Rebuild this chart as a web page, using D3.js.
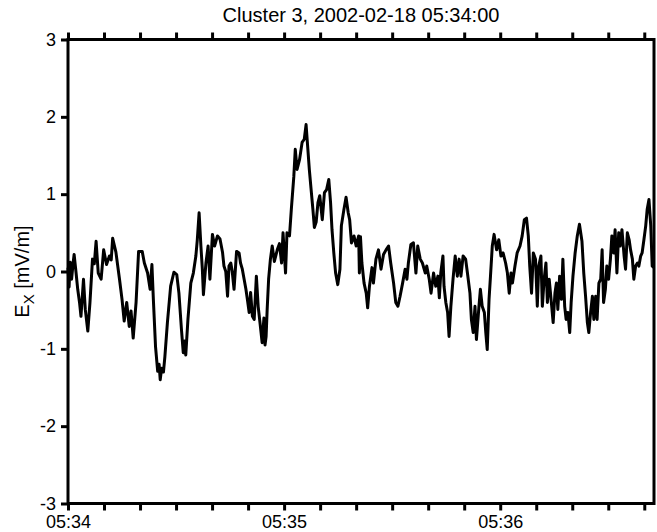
<!DOCTYPE html>
<html>
<head>
<meta charset="utf-8">
<script src="https://cdn.jsdelivr.net/npm/d3@7"></script>
<style>
  body { margin: 0; background: #fff; }
  svg { display: block; font-family: "Liberation Sans", Arial, sans-serif; }
</style>
</head>
<body>
<div class="chart"></div>
<script>
const WIDTH = 657, HEIGHT = 532;
const START = new Date(Date.UTC(2002, 1, 18, 5, 34, 0));
const END_SEC = 162.7;
const TITLE = "Cluster 3, 2002-02-18 05:34:00";
const Y_TICKS = [-3, -2, -1, 0, 1, 2, 3];

// seconds after 05:34:00
const secs = [0.0,0.3,0.6,1.0,1.4,1.7,2.2,2.7,3.2,3.6,4.3,4.8,5.5,6.1,6.8,7.3,7.8,8.4,9.2,9.9,
  10.7,11.5,12.0,12.4,13.3,14.3,15.0,15.6,16.3,17.0,17.5,18.1,18.9,19.6,20.6,21.2,22.1,22.8,23.3,23.7,
  24.3,24.9,25.3,25.6,26.0,26.5,26.9,27.6,28.5,29.4,30.2,30.8,31.5,32.0,32.4,32.7,33.3,34.1,34.8,35.5,
  35.9,36.4,36.9,37.3,37.6,38.3,38.9,39.4,40.1,40.7,41.5,42.2,42.9,43.3,43.8,44.3,44.7,45.2,45.6,46.1,
  46.8,47.5,47.9,48.4,48.9,49.4,49.8,50.3,50.7,51.2,51.7,52.3,52.8,53.3,53.9,54.4,54.7,55.0,55.3,55.7,
  56.2,56.7,57.3,58.1,58.7,59.3,59.7,60.4,60.8,61.5,62.0,62.7,63.1,63.6,64.3,65.0,65.6,66.1,66.6,67.0,
  67.5,68.0,68.4,68.9,69.4,69.9,70.6,71.2,71.8,72.4,72.9,73.3,73.8,74.3,74.9,75.5,75.9,76.6,77.2,77.8,
  78.2,78.7,79.4,80.0,80.7,80.9,81.2,81.6,82.2,82.8,83.2,83.7,84.4,84.8,85.5,86.2,86.9,87.6,88.3,89.0,
  89.6,90.4,91.0,91.6,92.2,92.9,93.6,94.1,94.5,95.2,95.9,96.6,97.1,97.8,98.4,99.2,99.6,100.3,100.8,101.5,
  102.1,102.7,103.1,103.5,104.1,104.4,104.9,105.4,105.8,106.3,106.9,107.5,108.1,108.6,109.1,109.7,110.4,110.9,111.6,112.0,
  112.5,113.0,113.4,114.1,114.5,115.0,115.6,116.0,116.4,116.9,117.3,117.8,118.3,119.0,119.6,120.2,120.8,121.5,122.0,122.5,
  123.0,123.4,124.1,124.7,125.5,126.1,126.7,127.3,127.8,128.2,128.7,129.2,129.8,130.3,130.7,131.3,131.7,132.2,132.7,133.1,
  133.6,134.3,134.7,135.2,135.6,136.0,136.5,137.0,137.4,137.9,138.3,138.8,139.3,139.7,140.2,140.8,141.4,142.0,142.7,143.2,
  143.7,144.2,144.6,145.1,145.6,146.0,146.5,146.9,147.4,147.9,148.3,148.7,149.2,149.6,150.1,150.6,151.0,151.5,151.9,152.4,
  152.9,153.3,153.8,154.4,154.8,155.3,155.8,156.2,156.7,157.1,157.6,158.1,158.5,159.0,159.4,159.9,160.4,160.8,161.3,161.8,
  162.2,162.7];

// Ex in mV/m
const ex = [0.05,-0.2,0.12,-0.1,0.1,0.22,0.0,-0.23,-0.4,-0.58,-0.1,-0.49,-0.77,-0.4,0.16,0.1,0.39,-0.02,-0.1,0.28,
  0.09,0.2,0.15,0.43,0.25,-0.1,-0.36,-0.64,-0.4,-0.71,-0.51,-0.86,-0.4,0.26,0.26,0.11,-0.02,-0.23,0.09,-0.36,
  -0.97,-1.29,-1.2,-1.4,-1.25,-1.3,-1.1,-0.66,-0.19,-0.01,-0.04,-0.28,-0.75,-1.05,-0.9,-1.08,-0.62,-0.15,-0.02,0.2,
  0.41,0.76,0.33,0.03,-0.3,0.11,0.33,-0.1,0.48,0.33,0.46,0.42,0.25,0.07,0.0,-0.32,0.07,0.11,0.0,-0.23,
  0.26,0.24,0.11,0.03,-0.1,-0.23,-0.36,-0.53,-0.27,-0.58,-0.62,-0.06,-0.45,-0.66,-0.92,-0.6,-0.95,-0.84,-0.49,-0.1,
  0.16,0.33,0.13,0.28,0.36,0.11,0.5,-0.02,0.5,0.46,0.8,1.23,1.58,1.32,1.45,1.67,1.71,1.9,1.58,1.32,
  1.06,0.8,0.57,0.64,0.89,0.98,0.67,1.02,1.06,1.19,0.89,0.54,0.24,-0.02,-0.17,0.03,0.59,0.8,0.96,0.76,
  0.67,0.37,0.46,0.33,0.46,-0.02,0.45,0.11,-0.15,-0.28,-0.47,-0.19,0.05,-0.15,0.16,0.28,0.03,0.22,0.28,0.33,
  0.11,-0.15,-0.4,-0.45,-0.32,-0.15,0.03,-0.1,0.11,0.35,0.37,-0.02,0.33,0.16,0.11,-0.02,0.07,-0.1,-0.28,-0.02,
  -0.19,-0.06,-0.34,-0.02,0.2,-0.19,-0.4,-0.53,-0.84,-0.45,-0.1,0.2,-0.06,0.16,-0.06,0.2,0.16,-0.02,-0.28,-0.62,
  -0.79,-0.45,-0.88,-0.45,-0.23,-0.45,-0.53,-0.79,-1.01,-0.36,-0.06,0.33,0.48,0.28,0.41,0.2,0.24,0.11,-0.02,-0.28,
  -0.02,-0.15,0.07,0.24,0.33,0.46,0.67,0.69,0.46,0.07,-0.28,0.24,0.16,-0.45,0.07,0.2,-0.45,-0.1,0.11,-0.4,
  -0.1,-0.45,-0.66,-0.28,-0.15,-0.49,-0.06,-0.36,0.16,-0.45,-0.62,-0.53,-0.79,-0.4,-0.06,0.24,0.46,0.61,0.39,-0.02,
  -0.32,-0.66,-0.79,-0.53,-0.32,-0.62,-0.32,-0.62,-0.15,-0.1,0.28,-0.4,-0.23,0.07,-0.1,0.16,0.46,0.24,0.54,-0.02,
  0.5,0.33,0.54,0.2,0.03,0.5,0.41,0.28,0.16,-0.1,0.07,0.11,0.07,0.2,0.24,0.41,0.59,0.8,0.93,0.59,
  0.07,0.05];

const margin = {top: 39.5, right: 3, bottom: 28.5, left: 68};

let data = secs.map((s, i) => ({t: new Date(START.getTime() + s * 1000), v: ex[i]}));

let svg = d3.select(".chart").append("svg").attr("width", WIDTH).attr("height", HEIGHT);

let xScale = d3.scaleUtc()
  .domain([START, new Date(START.getTime() + END_SEC * 1000)])
  .range([margin.left, WIDTH - margin.right]);
let yScale = d3.scaleLinear().domain([-3, 3]).range([HEIGHT - margin.bottom, margin.top]);

let tickTimes = d3.utcSecond.every(10).range(START, new Date(START.getTime() + END_SEC * 1000 + 1));
let fmt = d3.utcFormat("%H:%M");
let labelOf = d => d.getUTCSeconds() === 0 ? fmt(d) : "";

// data line
let line = d3.line().x(d => xScale(d.t)).y(d => yScale(d.v));
svg.append("path").datum(data)
  .attr("fill", "none").attr("stroke", "#000").attr("stroke-width", 3)
  .attr("stroke-linejoin", "round")
  .attr("d", line);

// axes
let bottomAxis = d3.axisBottom(xScale).tickValues(tickTimes).tickFormat(labelOf).tickSize(7).tickSizeOuter(0).tickPadding(5);
let topAxis = d3.axisTop(xScale).tickValues(tickTimes).tickFormat("").tickSize(7).tickSizeOuter(0);
let leftAxis = d3.axisLeft(yScale).tickValues(Y_TICKS).tickFormat(d => String(d)).tickSize(7).tickSizeOuter(0).tickPadding(5);

let gx = svg.append("g").attr("transform", `translate(0, ${HEIGHT - margin.bottom})`).call(bottomAxis);
let gt = svg.append("g").attr("transform", `translate(0, ${margin.top})`).call(topAxis);
let gy = svg.append("g").attr("transform", `translate(${margin.left}, 0)`).call(leftAxis);

for (let g of [gx, gt, gy]) {
  g.select(".domain").remove();
  g.selectAll(".tick line").attr("stroke", "#000").attr("stroke-width", 3);
  g.selectAll(".tick text").attr("fill", "#000").style("font-size", "18px")
    .style("font-family", "'Liberation Sans', Arial, sans-serif");
}

// frame
svg.append("rect")
  .attr("x", margin.left).attr("y", margin.top)
  .attr("width", WIDTH - margin.right - margin.left)
  .attr("height", HEIGHT - margin.bottom - margin.top)
  .attr("fill", "none").attr("stroke", "#000").attr("stroke-width", 3);

// title
svg.append("text")
  .attr("x", (margin.left + WIDTH - margin.right) / 2).attr("y", 22)
  .attr("text-anchor", "middle").style("font-size", "20px")
  .text(TITLE);

// y label
let yl = svg.append("text")
  .attr("transform", `translate(29, ${yScale(0)}) rotate(-90)`)
  .attr("text-anchor", "middle").style("font-size", "20px");
yl.append("tspan").text("E");
yl.append("tspan").attr("dy", 5).style("font-size", "15px").text("X");
yl.append("tspan").attr("dy", -5).text(" [mV/m]");
</script>
</body>
</html>
